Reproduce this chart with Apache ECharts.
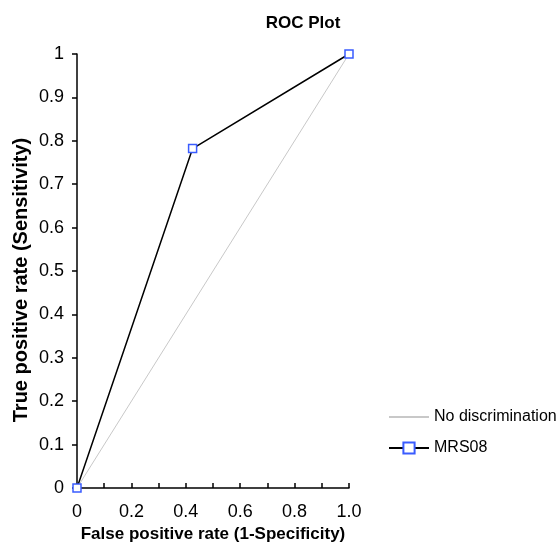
<!DOCTYPE html>
<html>
<head>
<meta charset="utf-8">
<script src="https://cdn.jsdelivr.net/npm/echarts@6/dist/echarts.min.js"></script>
<style>
  html, body { margin: 0; padding: 0; background: #fff; }
  #chart { width: 556px; height: 544px; }
</style>
</head>
<body>
<div id="chart"></div>
<script>
// ROC 数据
var seriesNames = ['No discrimination', 'MRS08'];
var diagFpr = [0, 1];
var diagTpr = [0, 1];
var rocFpr = [0, 0.425, 1];
var rocTpr = [0, 0.782, 1];
// x轴标签，每0.1一个刻度，隔一个显示
var xTickLabels = ['0', '', '0.2', '', '0.4', '', '0.6', '', '0.8', '', '1.0'];

function toPairs(xs, ys) {
	var arr = [];
	for (var i = 0; i < xs.length; i++) {
		arr.push([xs[i], ys[i]]);
	}
	return arr;
}

var font = 'Liberation Sans, Arial, sans-serif';

var option = {
	animation: false,
	title: {
		text: 'ROC Plot', left: 298, top: 10, textAlign: 'center',
		textStyle: {fontFamily: font, fontSize: 17, fontWeight: 'bold', color: '#000'}
	},
	legend: {
		orient: 'vertical', left: 388, top: 409, padding: 0,
		itemWidth: 40, itemHeight: 14, itemGap: 15,
		textStyle: {fontFamily: font, fontSize: 16, color: '#000'},
		data: [
			{name: seriesNames[0], itemStyle: {opacity: 0}},
			{name: seriesNames[1]}
		]
	},
	grid: {left: 77, right: 207, top: 54, bottom: 56, containLabel: false, outerBoundsMode: 'none'},
	xAxis: {
		type: 'value', min: 0, max: 1, interval: 0.1,
		name: 'False positive rate (1-Specificity)', nameLocation: 'middle', nameGap: 38,
		nameTextStyle: {fontFamily: font, fontSize: 17, fontWeight: 'bold', color: '#000'},
		axisLine: {show: true, lineStyle: {color: '#000', width: 1.5}},
		axisTick: {show: true, inside: true, length: 5, lineStyle: {color: '#000', width: 1.5}},
		axisLabel: {
			margin: 15, fontFamily: font, fontSize: 18, color: '#000',
			formatter: function(v) {
				return xTickLabels[Math.round(v * 10)];
			}
		},
		splitLine: {show: false}
	},
	yAxis: {
		type: 'value', min: 0, max: 1, interval: 0.1,
		name: 'True positive rate (Sensitivity)', nameLocation: 'middle', nameGap: 46,
		nameTextStyle: {fontFamily: font, fontSize: 20, fontWeight: 'bold', color: '#000', padding: [0, 18, 0, 0]},
		axisLine: {show: true, lineStyle: {color: '#000', width: 1.5}},
		axisTick: {show: true, length: 5, lineStyle: {color: '#000', width: 1.5}},
		axisLabel: {margin: 13, fontFamily: font, fontSize: 18, color: '#000'},
		splitLine: {show: false}
	},
	series: [
		{
			name: seriesNames[0], type: 'line', symbol: 'none',
			lineStyle: {color: '#c8c8c8', width: 1},
			itemStyle: {color: '#c8c8c8'},
			data: toPairs(diagFpr, diagTpr)
		},
		{
			name: seriesNames[1], type: 'line', symbol: 'rect', symbolSize: 8,
			lineStyle: {color: '#000', width: 1.5},
			itemStyle: {color: '#fff', borderColor: '#3a5cff', borderWidth: 1.5},
			data: toPairs(rocFpr, rocTpr)
		}
	]
};

var myChart = echarts.init(document.getElementById('chart'));
myChart.setOption(option);//加载图表
</script>
</body>
</html>
